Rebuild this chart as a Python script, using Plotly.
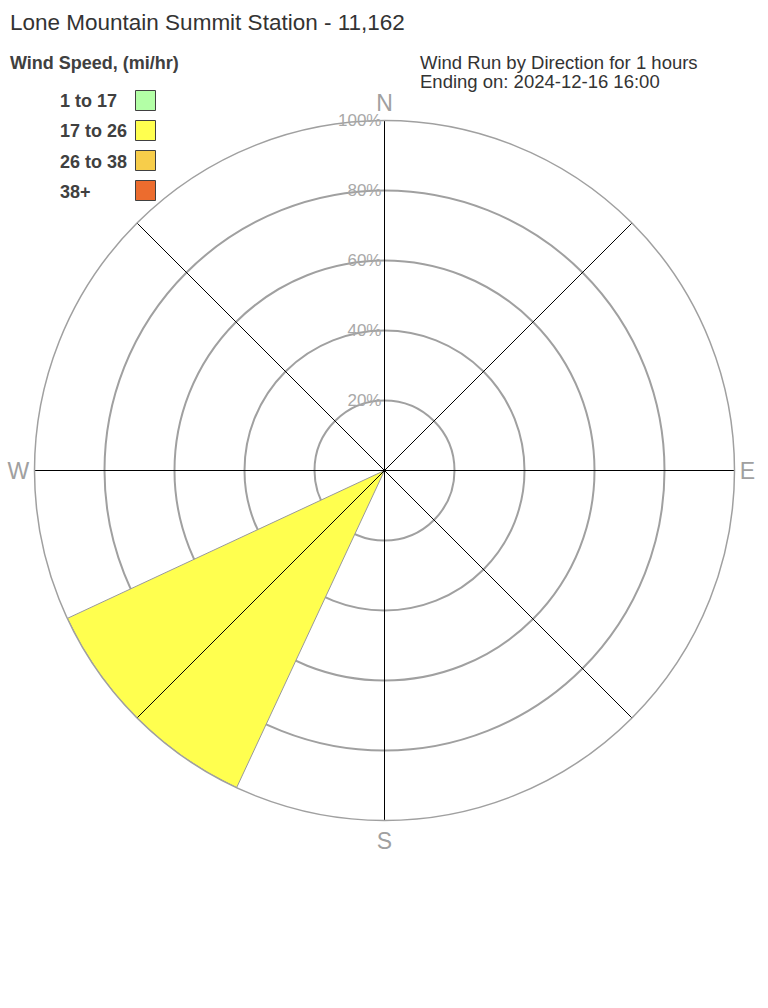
import plotly.graph_objects as go

# ---- data ----
speed_bins = ["1 to 17", "17 to 26", "26 to 38", "38+"]
bin_colors = ["#b3ffa6", "#ffff4f", "#f7cd4a", "#ec6c2e"]
directions = [0, 45, 90, 135, 180, 225, 270, 315]
dir_labels = ["N", "", "E", "", "S", "", "W", ""]
# percent of wind run per direction, per speed bin
bin_values = {
    "1 to 17":  [0, 0, 0, 0, 0, 0, 0, 0],
    "17 to 26": [0, 0, 0, 0, 0, 100, 0, 0],
    "26 to 38": [0, 0, 0, 0, 0, 0, 0, 0],
    "38+":      [0, 0, 0, 0, 0, 0, 0, 0],
}
ring_vals = [20, 40, 60, 80, 100]

title_text = "Lone Mountain Summit Station - 11,162"
legend_title = "Wind Speed, (mi/hr)"
sub_lines = ["Wind Run by Direction for 1 hours", "Ending on: 2024-12-16 16:00"]

FONT = "Liberation Sans, Arial, sans-serif"

fig = go.Figure()
for name, col in zip(speed_bins, bin_colors):
    fig.add_trace(go.Barpolar(
        r=bin_values[name], theta=directions, width=[40] * len(directions),
        name=name, marker=dict(color=col, line=dict(color="#999999", width=1)),
        showlegend=False, hoverinfo="skip",
    ))

# spokes drawn above the bars
sr, st = [], []
for d in directions:
    sr += [0, ring_vals[-1], None]
    st += [d, d, None]
fig.add_trace(go.Scatterpolar(r=sr, theta=st, mode="lines",
                              line=dict(color="black", width=1),
                              showlegend=False, hoverinfo="skip"))

W, H = 768, 1008
cx, cy, R = 384.5, 470.5, 350
fig.update_layout(
    width=W, height=H,
    margin=dict(l=0, r=0, t=0, b=0),
    paper_bgcolor="white", plot_bgcolor="white",
    font=dict(family=FONT),
    barmode="stack",
    polar=dict(
        domain=dict(x=[(cx - R) / W, (cx + R) / W],
                    y=[(H - cy - R) / H, (H - cy + R) / H]),
        bgcolor="white",
        bargap=0,
        radialaxis=dict(range=[0, 100], tickvals=ring_vals,
                        ticktext=[f"{v}%" for v in ring_vals],
                        angle=90, tickangle=90, side="counterclockwise",
                        showline=False, ticks="",
                        gridcolor="#a0a0a0", gridwidth=1.5,
                        tickfont=dict(size=17, color="#a8a8a8", family=FONT)),
        angularaxis=dict(direction="clockwise", rotation=90,
                         tickvals=directions, ticktext=dir_labels,
                         showgrid=False, ticks="",
                         showline=True, linecolor="#a0a0a0", linewidth=1.5,
                         tickfont=dict(size=23, color="#a0a0a0", family=FONT)),
    ),
)

annotations = [
    dict(text=title_text, x=8 / W, y=1 - 22 / H, xref="paper", yref="paper",
         xanchor="left", yanchor="middle", showarrow=False,
         font=dict(size=22.5, color="#333333", family=FONT)),
    dict(text="<b>" + legend_title + "</b>", x=8 / W, y=1 - 63 / H,
         xref="paper", yref="paper", xanchor="left", yanchor="middle",
         showarrow=False, font=dict(size=18, color="#404040", family=FONT)),
]
for j, line in enumerate(sub_lines):
    annotations.append(dict(text=line, x=418 / W, y=1 - (62.5 + 19 * j) / H,
                            xref="paper", yref="paper", xanchor="left",
                            yanchor="middle", showarrow=False,
                            font=dict(size=18.5, color="#333333", family=FONT)))
shapes = []
for i, (name, col) in enumerate(zip(speed_bins, bin_colors)):
    yc = 100.5 + i * 30
    annotations.append(dict(text="<b>" + name + "</b>", x=58 / W, y=1 - (yc + 1) / H,
                            xref="paper", yref="paper", xanchor="left",
                            yanchor="middle", showarrow=False,
                            font=dict(size=18, color="#404040", family=FONT)))
    shapes.append(dict(type="rect", xref="paper", yref="paper",
                       x0=135.5 / W, x1=155.5 / W, y0=1 - (yc - 10) / H, y1=1 - (yc + 10) / H,
                       fillcolor=col, line=dict(color="#404040", width=1)))
fig.update_layout(annotations=annotations, shapes=shapes)

fig.write_html("out.html", config={"displayModeBar": False},
               post_script="document.body.style.margin='0px';")
